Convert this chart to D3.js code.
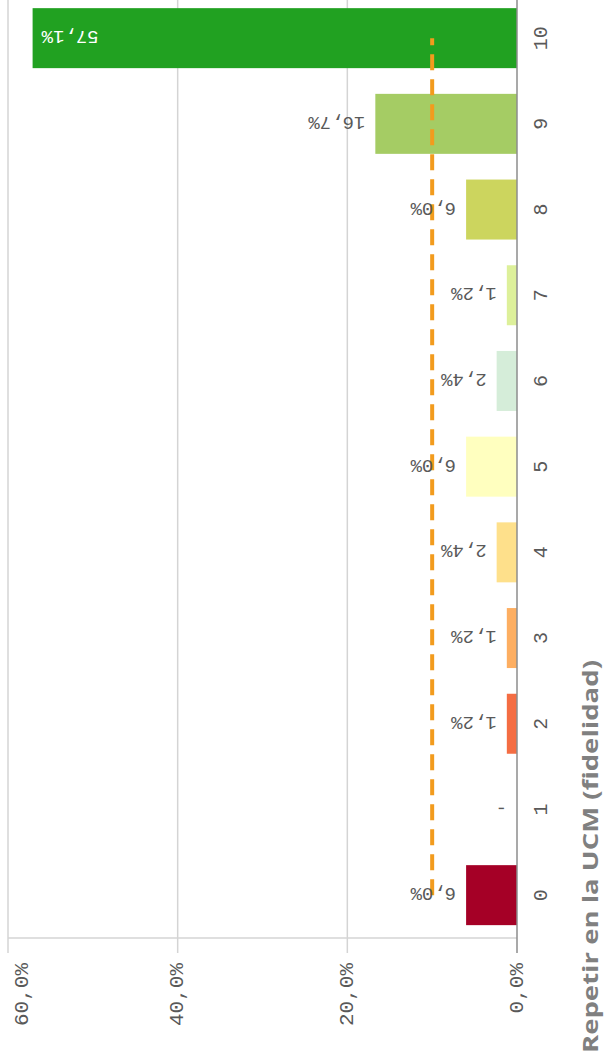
<!DOCTYPE html>
<html>
<head>
<meta charset="utf-8">
<script src="https://cdn.jsdelivr.net/npm/d3@7"></script>
<style>
  body { margin: 0; background: #fff; }
  svg { display: block; }
</style>
</head>
<body>
<svg width="604" height="1058"></svg>
<script>
// datos
var categorias = ["0", "1", "2", "3", "4", "5", "6", "7", "8", "9", "10"];
var porcentajes = [6.0, 0, 1.2, 1.2, 2.4, 6.0, 2.4, 1.2, 6.0, 16.7, 57.1];
var meta = [10, 10, 10, 10, 10, 10, 10, 10, 10, 10, 10];
var ticksValor = [0, 20, 40, 60];
var colores = ["#a50026", "#f46d43", "#f46d43", "#fdae61", "#fee08b", "#ffffbf",
               "#d5edd9", "#ddf09a", "#ccd55e", "#a5cc64", "#21a121"];
var titulo = "Repetir en la UCM (fidelidad)";

var svg = d3.select("svg"),
    width = +svg.attr("width"),
    height = +svg.attr("height");

var mono = "'Liberation Mono', 'DejaVu Sans Mono', monospace";

var es = d3.formatLocale({decimal: ",", thousands: ".", grouping: [3], currency: ["", "€"]});
var pct = function(v) { return v === 0 ? "-" : es.format(".1f")(v) + "%"; };
var pctEje = function(v) { return es.format(".1f")(v) + "%"; };

// chart is drawn turned 90deg: categories go up, values go left
var axisY = 938;
var x = d3.scaleLinear().domain([0, 60]).range([517, 8]);
var y = d3.scaleBand()
    .domain(categorias)
    .range([axisY, axisY - 11 * 85.7])
    .paddingInner(0.3)
    .paddingOuter(0.15);

var datos = categorias.map(function(c, i) {
  return {cat: c, v: porcentajes[i], meta: meta[i], color: colores[i]};
});

// grid
svg.append("g").selectAll("line")
  .data(ticksValor.filter(function(t) { return t > 0; }))
  .enter().append("line")
    .attr("x1", function(d) { return x(d); })
    .attr("x2", function(d) { return x(d); })
    .attr("y1", -10)
    .attr("y2", axisY + 15)
    .attr("stroke", "#d4d4d4")
    .attr("stroke-width", 1.5);

// value axis line
svg.append("line")
    .attr("x1", x(60)).attr("x2", x(0))
    .attr("y1", axisY).attr("y2", axisY)
    .attr("stroke", "#d4d4d4")
    .attr("stroke-width", 1.5);

// bars
svg.append("g").selectAll("rect")
  .data(datos.filter(function(d) { return d.v > 0; }))
  .enter().append("rect")
    .attr("x", function(d) { return x(d.v); })
    .attr("width", function(d) { return x(0) - x(d.v); })
    .attr("y", function(d) { return y(d.cat); })
    .attr("height", y.bandwidth())
    .attr("fill", function(d) { return d.color; });

// category axis (zero line)
svg.append("line")
    .attr("x1", x(0)).attr("x2", x(0))
    .attr("y1", -10).attr("y2", axisY + 15)
    .attr("stroke", "#8c8c8c")
    .attr("stroke-width", 1.5);

// target line
var linea = d3.line()
    .x(function(d) { return x(d.meta); })
    .y(function(d) { return y(d.cat) + y.bandwidth() / 2; });

svg.append("path")
    .datum(datos)
    .attr("d", linea)
    .attr("fill", "none")
    .attr("stroke", "#f29b1d")
    .attr("stroke-width", 4)
    .attr("stroke-dasharray", "16,9");

// data labels (upside down)
svg.append("g").selectAll("text")
  .data(datos)
  .enter().append("text")
    .attr("transform", function(d) {
      var cy = y(d.cat) + y.bandwidth() / 2;
      var px = d.v > 40 ? x(d.v) + 9 : x(d.v) - 10;
      return "translate(" + px + "," + cy + ") rotate(180)";
    })
    .attr("text-anchor", function(d) { return d.v > 40 ? "end" : "start"; })
    .attr("dominant-baseline", "central")
    .attr("dy", "0.1em")
    .attr("font-family", mono)
    .attr("font-size", 19)
    .attr("fill", function(d) { return d.v > 40 ? "#ffffff" : "#595959"; })
    .text(function(d) { return pct(d.v); });

// category labels
svg.append("g").selectAll("text")
  .data(categorias)
  .enter().append("text")
    .attr("transform", function(d) {
      return "translate(541," + (y(d) + y.bandwidth() / 2) + ") rotate(-90)";
    })
    .attr("text-anchor", "middle")
    .attr("dominant-baseline", "central")
    .attr("font-family", mono)
    .attr("font-size", 20)
    .attr("fill", "#595959")
    .text(function(d) { return d; });

// value tick labels
svg.append("g").selectAll("text")
  .data(ticksValor)
  .enter().append("text")
    .attr("transform", function(d) {
      return "translate(" + Math.max(x(d), 22) + "," + (axisY + 25) + ") rotate(-90)";
    })
    .attr("text-anchor", "end")
    .attr("dominant-baseline", "central")
    .attr("font-family", mono)
    .attr("font-size", 21)
    .attr("fill", "#595959")
    .text(function(d) { return pctEje(d); });

// axis title
svg.append("text")
    .attr("transform", "translate(598,1053) rotate(-90)")
    .attr("font-family", "'Open Sans', sans-serif")
    .attr("font-weight", "bold")
    .attr("font-size", 22)
    .attr("textLength", 393)
    .attr("lengthAdjust", "spacingAndGlyphs")
    .attr("fill", "#808080")
    .text(titulo);
</script>
</body>
</html>
